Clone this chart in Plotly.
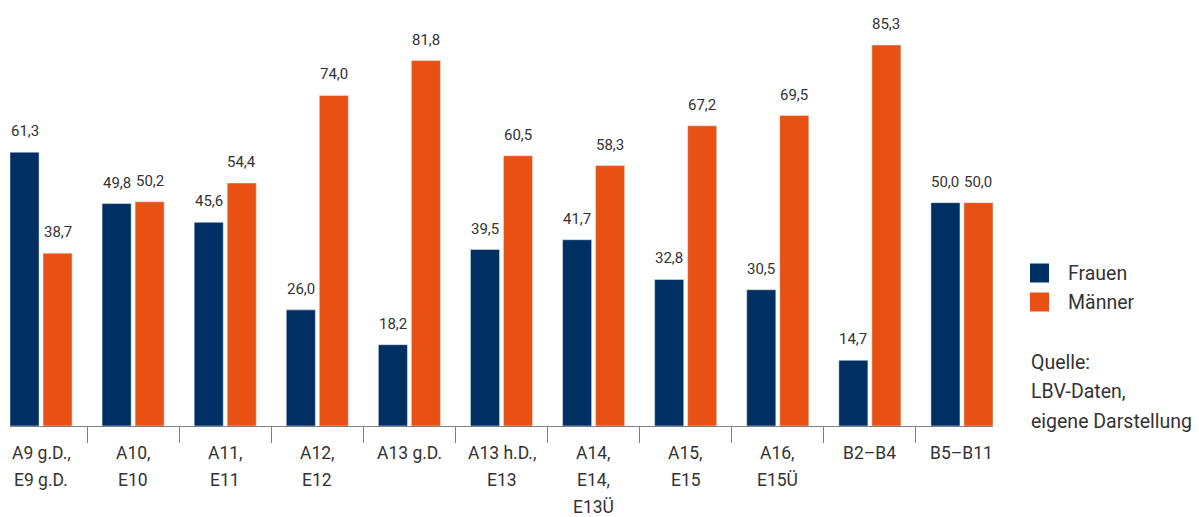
import plotly.graph_objects as go

categories = [
    ["A9 g.D.,", "E9 g.D."],
    ["A10,", "E10"],
    ["A11,", "E11"],
    ["A12,", "E12"],
    ["A13 g.D."],
    ["A13 h.D.,", "E13"],
    ["A14,", "E14,", "E13Ü"],
    ["A15,", "E15"],
    ["A16,", "E15Ü"],
    ["B2–B4"],
    ["B5–B11"],
]
frauen = [61.3, 49.8, 45.6, 26.0, 18.2, 39.5, 41.7, 32.8, 30.5, 14.7, 50.0]
maenner = [38.7, 50.2, 54.4, 74.0, 81.8, 60.5, 58.3, 67.2, 69.5, 85.3, 50.0]
series_names = ["Frauen", "Männer"]
source_lines = ["Quelle:", "LBV-Daten,", "eigene Darstellung"]

NAVY = "#003063"
ORANGE = "#e85113"
TEXT = "#333333"
FONT = "Roboto"

x = list(range(len(categories)))
fig = go.Figure()
fig.add_trace(go.Bar(x=x, y=frauen, name=series_names[0], marker_color=NAVY))
fig.add_trace(go.Bar(x=x, y=maenner, name=series_names[1], marker_color=ORANGE))

def fmt(v):
    return f"{v:.1f}".replace(".", ",")

ann = []
off = 0.179
for i in x:
    for dx, vals in ((-off, frauen), (off, maenner)):
        ann.append(dict(x=i + dx, y=vals[i], xref="x", yref="y", text=fmt(vals[i]),
                        showarrow=False, yanchor="middle", yshift=21,
                        font=dict(size=15, color=TEXT, family=FONT)))
    for k, line in enumerate(categories[i]):
        ann.append(dict(x=i, y=0, xref="x", yref="paper", text=line, showarrow=False,
                        yanchor="middle", yshift=-26.5 - 27 * k,
                        font=dict(size=17.5, color=TEXT, family=FONT)))

# legend (manual)
shapes = []
for k, (name, col) in enumerate(zip(series_names, [NAVY, ORANGE])):
    yc = 273 + 29 * k
    shapes.append(dict(type="rect", xref="paper", yref="paper",
                       x0=(1030 - 10) / 983, x1=(1049 - 10) / 983,
                       y0=(426 - (yc + 9.5)) / 426, y1=(426 - (yc - 9.5)) / 426,
                       fillcolor=col, line_width=0))
    ann.append(dict(x=(1066 - 10) / 983, y=(426 - yc) / 426, xref="paper", yref="paper",
                    text=name, showarrow=False, xanchor="left", yanchor="middle",
                    font=dict(size=19.5, color=TEXT, family=FONT)))
for k, line in enumerate(source_lines):
    yc = 362 + 29.5 * k
    ann.append(dict(x=(1029 - 10) / 983, y=(426 - yc) / 426, xref="paper", yref="paper",
                    text=line, showarrow=False, xanchor="left", yanchor="middle",
                    font=dict(size=19.5, color=TEXT, family=FONT)))

fig.update_layout(
    width=1199, height=517,
    margin=dict(l=10, r=206, t=0, b=91),
    paper_bgcolor="white", plot_bgcolor="white",
    barmode="group", bargap=0.283, bargroupgap=0.12,
    showlegend=False,
    annotations=ann, shapes=shapes,
    font=dict(family=FONT, color=TEXT),
    xaxis=dict(range=[-0.337, 10.337], tickvals=[i + 0.5 for i in range(10)],
               showticklabels=False, ticks="outside", ticklen=16, tickcolor="#808080",
               tickwidth=1.2, showline=True, linecolor="#808080", linewidth=1.2,
               showgrid=False, zeroline=False),
    yaxis=dict(range=[0, 95.37], visible=False, showgrid=False, zeroline=False),
)

fig.write_html("out.html")
